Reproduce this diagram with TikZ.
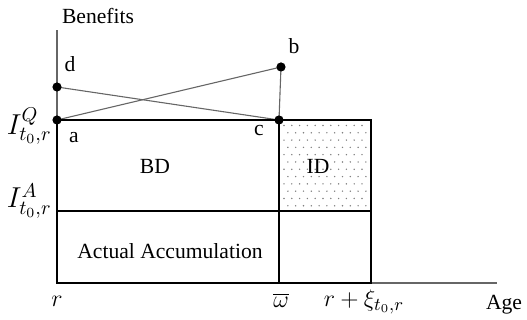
\documentclass[tikz,border=0pt]{standalone}
\usepackage{fontspec}
\setmainfont{Liberation Serif}
\begin{document}
\begin{tikzpicture}[x=0.5pt,y=-0.5pt,
  font=\rmfamily\fontsize{10.8}{13}\selectfont,
  thinline/.style={draw=black!60,line width=0.55pt},
  boxline/.style={draw=black,line width=0.85pt},
  pt/.style={circle,inner sep=0pt,minimum size=4.6pt},
  lbl/.style={inner sep=1pt},
  mlbl/.style={inner sep=1pt,font=\fontsize{12.5}{14}\selectfont},
  ilbl/.style={inner sep=1pt,font=\fontsize{14.5}{16}\selectfont}]
\useasboundingbox (0,0) rectangle (527,320);
% coordinates
\coordinate (O) at (57,283);
\coordinate (ytop) at (57,30);
\coordinate (xend) at (497,283);
\coordinate (cA) at (57,211);
\coordinate (w0) at (279,283);
\coordinate (x0) at (371,283);
\coordinate (xQ) at (371,120);
\coordinate (xA) at (371,211);
% dotted fill of ID
\foreach \j in {0,...,11}{
  \foreach \i in {0,...,10}{
    \fill[black!50] ({284+\i*7.8+mod(\j,2)*3.9},{125.5+\j*7.3}) circle (0.8);
  }
}
% points
\node[pt] (a) at (57,120) {};
\node[pt] (d) at (57,87) {};
\node[pt] (b) at (281,67) {};
\node[pt] (c) at (279,120) {};
% axes
\draw[thinline] (a.center) -- (ytop);
\draw[thinline] (x0) -- (xend);
% gray connectors
\draw[thinline] (a.center) -- (b.center);
\draw[thinline] (d.center) -- (c.center);
\draw[thinline] (b.center) -- (c.center);
% boxes
\draw[boxline] (a.center) -- (O) -- (x0) -- (xQ) -- (c.center) -- cycle;
\draw[boxline] (cA) -- (xA);
\draw[boxline] (c.center) -- (w0);
% points on top
\foreach \p in {a,b,c,d}{\fill (\p.center) circle (4.6);}
% labels
\node[lbl] (benefits) at (98,16) {Benefits};
\node[lbl] (ld) at (70,64) {d};
\node[lbl] (lb) at (294,46) {b};
\node[lbl] (la) at (74,138) {a};
\node[lbl] (lc) at (259,131) {c};
\node[lbl] (BD) at (155,166) {BD};
\node[lbl] (ID) at (318,166) {ID};
\node[lbl] (AA) at (170,251) {Actual Accumulation};
\node[ilbl,anchor=east] (IQ) at (54,126) {$I^{Q}_{t_0,r}$};
\node[ilbl,anchor=east] (IA) at (54,201) {$I^{A}_{t_0,r}$};
\node[mlbl] (lr) at (57,301) {$r$};
\node[mlbl] (lw) at (281,300) {$\overline{\omega}$};
\node[mlbl] (lxi) at (364,302) {$r+\xi_{t_0,r}$};
\node[lbl] (age) at (504,305) {Age};
\end{tikzpicture}
\end{document}
